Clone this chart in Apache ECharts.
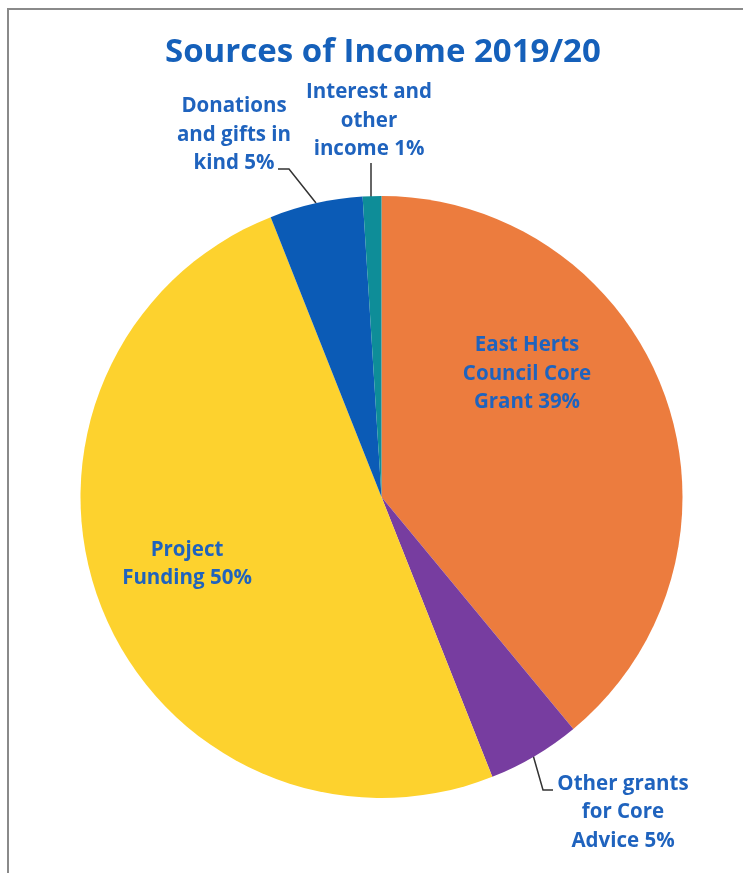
<!DOCTYPE html>
<html><head><meta charset="utf-8">
<script src="https://cdn.jsdelivr.net/npm/echarts@6/dist/echarts.min.js"></script>
<style>html,body{margin:0;padding:0;background:#fff}#c{width:743px;height:873px}</style>
</head><body><div id="c"></div>
<script>
const titleText = 'Sources of Income 2019/20';
const categories = ['East Herts Council Core Grant','Other grants for Core Advice','Project Funding','Donations and gifts in kind','Interest and other income'];
const values = [39, 5, 50, 5, 1];
const labelTexts = ['East Herts\nCouncil Core\nGrant 39%','Other grants\nfor Core\nAdvice 5%','Project\nFunding 50%','Donations\nand gifts in\nkind 5%','Interest and\nother\nincome 1%'];
const colors = ['#EC7C3E','#773DA0','#FDD22E','#0B5BB6','#0E8D98'];

// label placement (layout only)
const labelPos = [
  {x:527, y:374},
  {x:623, y:812.5, line:[[533,755],[543,790],[553,790]]},
  {x:187, y:564},
  {x:234, y:135, line:[[316,203],[289,169],[278,169]]},
  {x:369, y:121, line:[[371,198],[371,163],[371,163]]}
];

const chart = echarts.init(document.getElementById('c'), null, {renderer:'canvas'});
const textStyle = {color:'#1F63BE', fontFamily:'Open Sans', fontWeight:'bold', fontSize:20.5, lineHeight:28.5, align:'center'};
chart.setOption({
  animation:false,
  title:{text:titleText, left:160, top:31, textStyle:{color:'#1560BA', fontFamily:'Open Sans', fontWeight:'bold', fontSize:33}},
  graphic:[
    {type:'line', shape:{x1:7, y1:9, x2:743, y2:9}, style:{stroke:'#8a8a8a', lineWidth:2}},
    {type:'line', shape:{x1:8, y1:9, x2:8, y2:873}, style:{stroke:'#8a8a8a', lineWidth:2}}
  ],
  series:[{
    type:'pie',
    center:[381.5, 497],
    radius:301,
    startAngle:90,
    clockwise:true,
    avoidLabelOverlap:false,
    itemStyle:{borderWidth:0},
    label:Object.assign({show:true, position:'outside', formatter:p=>labelTexts[p.dataIndex]}, textStyle),
    labelLine:{show:true, lineStyle:{color:'#333', width:1.5}},
    labelLayout:function(p){
      const lp = labelPos[p.dataIndex];
      const r = {x:lp.x, y:lp.y, align:'center', verticalAlign:'middle'};
      if (lp.line) r.labelLinePoints = lp.line;
      return r;
    },
    data: categories.map((n,i)=>({
      name:n, value:values[i], itemStyle:{color:colors[i]},
      labelLine:{show: !!labelPos[i].line}
    }))
  }]
});
</script></body></html>
